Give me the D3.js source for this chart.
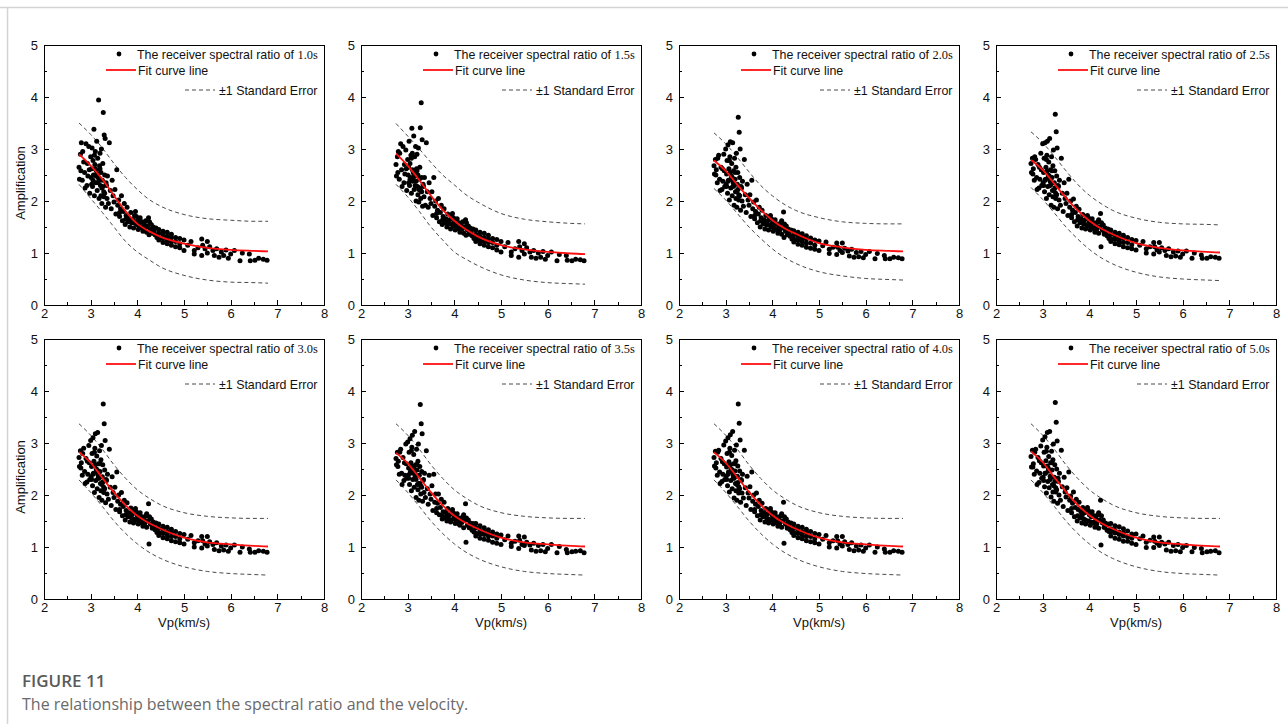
<!DOCTYPE html>
<html>
<head>
<meta charset="utf-8">
<script src="https://cdn.jsdelivr.net/npm/d3@7"></script>
<style>
  body { margin: 0; background: #fff; }
  svg { display: block; }
</style>
</head>
<body>
<div id="chart"></div>
<script>
// Plot constants
const PAGE = {WIDTH: 1288, HEIGHT: 724};
const PANEL = {WIDTH: 280, HEIGHT: 260};
const COL_LEFT = [44, 361, 679, 996];
const ROW_TOP = [45, 339];

const periods = ["1.0", "1.5", "2.0", "2.5", "3.0", "3.5", "4.0", "5.0"];
const xTicks = [2, 3, 4, 5, 6, 7, 8];
const yTicks = [0, 1, 2, 3, 4, 5];

// station velocities (shared by all periods)
const vp = [
  2.75,2.76,2.78,2.80,2.82,2.85,2.87,2.90,2.92,2.94,
  2.96,2.98,3.00,3.01,3.02,3.03,3.04,3.05,3.06,3.07,
  3.08,3.09,3.10,3.11,3.12,3.13,3.14,3.15,3.16,3.17,
  3.18,3.19,3.20,3.21,3.22,3.23,3.24,3.25,3.26,3.27,
  3.28,3.29,3.30,3.31,3.32,3.33,3.35,3.36,3.38,3.40,
  3.42,3.44,3.46,3.48,
  2.79,2.88,2.97,3.05,3.10,3.14,3.18,3.22,3.26,3.30,
  2.83,2.93,3.02,3.08,3.12,3.16,3.20,3.24,3.28,3.34,
  3.50,3.52,3.54,3.56,3.58,3.60,3.62,3.64,3.66,3.68,
  3.70,3.72,3.74,3.76,3.78,3.80,3.82,3.84,3.86,3.88,
  3.90,3.92,3.94,3.96,3.98,4.00,4.02,4.04,4.06,4.08,
  4.10,4.12,4.14,4.16,4.18,4.20,4.22,4.24,4.25,4.26,
  4.28,4.30,4.32,4.34,4.36,4.38,4.40,4.42,
  3.62,3.75,3.85,3.92,3.98,4.03,4.10,4.15,4.20,4.32,
  4.46,4.46,4.46,4.46,4.55,4.55,4.55,4.55,4.64,4.64,
  4.64,4.64,4.73,4.73,4.73,4.73,4.82,4.82,4.82,4.91,
  4.91,4.91,5.00,5.00,
  5.08,5.15,5.22,5.22,5.30,5.38,5.38,5.40,5.45,5.50,
  5.50,5.55,5.62,5.65,5.70,5.75,5.80,5.85,5.90,5.95,
  6.00,6.08,6.20,6.25,6.40,6.42,6.52,6.60,6.70,6.78
];

// receiver spectral ratio (amplification) per period
const amp10 = [
  2.65,2.42,2.90,3.12,2.40,2.75,2.55,3.10,2.30,2.48,
  3.05,2.15,2.85,2.45,2.62,3.02,2.28,2.78,2.50,3.38,
  2.10,2.70,2.95,2.35,2.58,3.15,2.20,2.82,2.45,3.94,
  2.05,2.68,2.92,2.30,2.55,3.00,1.95,2.40,2.72,3.70,
  2.18,3.27,2.50,3.20,1.88,2.35,2.05,2.48,1.95,3.12,
  2.20,1.85,2.40,2.10,
  2.58,2.25,2.60,2.40,2.62,2.52,2.40,2.10,2.28,2.15,
  2.95,2.72,2.32,2.88,2.48,2.35,2.62,2.25,2.08,2.30,
  1.98,2.22,1.75,2.60,1.92,2.02,1.70,1.85,2.10,1.62,
  1.80,1.95,1.55,1.72,1.88,1.60,1.68,1.50,1.78,1.58,
  1.65,1.48,1.72,1.80,1.55,1.62,1.45,1.58,1.68,1.50,
  1.60,1.42,1.55,1.48,1.62,1.40,1.52,1.68,1.35,1.60,
  1.45,1.55,1.38,1.50,1.42,1.35,1.48,1.30,
  1.78,1.65,1.62,1.58,1.70,1.52,1.48,1.55,1.50,1.42,
  1.45,1.38,1.30,1.25,1.42,1.35,1.28,1.20,1.40,1.32,
  1.25,1.18,1.36,1.30,1.22,1.15,1.30,1.22,1.12,1.28,
  1.18,1.10,1.25,1.05,
  1.15,1.22,1.05,0.98,1.10,1.27,0.95,1.15,1.08,1.22,
  1.00,1.12,1.05,0.95,1.08,0.92,1.02,0.95,1.06,0.90,
  0.98,1.05,0.85,1.00,0.98,0.85,0.86,0.90,0.88,0.86
];
const amp15 = [
  2.70,2.48,2.85,2.95,2.42,3.10,2.60,3.05,2.35,2.52,
  2.98,2.20,2.80,2.50,2.65,3.15,2.30,2.72,2.45,2.88,
  2.15,3.40,2.92,2.38,2.55,3.25,2.22,2.85,2.48,3.05,
  2.00,2.62,2.90,2.28,2.50,3.02,1.98,2.42,2.65,3.41,
  2.20,3.89,2.45,3.18,1.90,2.32,2.08,2.45,1.92,3.12,
  2.18,1.88,2.35,2.05,
  2.55,2.28,2.62,2.42,2.60,2.50,2.38,2.12,2.25,2.18,
  2.92,2.70,2.35,2.82,2.45,2.30,2.58,2.22,2.05,2.28,
  1.95,2.18,1.72,2.45,1.90,2.00,1.68,1.82,2.05,1.60,
  1.78,1.92,1.55,1.70,1.85,1.58,1.66,1.50,1.75,1.56,
  1.64,1.46,1.70,1.76,1.52,1.60,1.44,1.56,1.66,1.48,
  1.58,1.40,1.54,1.46,1.60,1.38,1.50,1.64,1.34,1.58,
  1.44,1.52,1.36,1.48,1.40,1.33,1.46,1.28,
  1.76,1.64,1.60,1.56,1.68,1.50,1.46,1.53,1.48,1.40,
  1.44,1.36,1.28,1.22,1.40,1.32,1.25,1.18,1.38,1.30,
  1.22,1.15,1.34,1.27,1.20,1.12,1.28,1.20,1.10,1.26,
  1.15,1.06,1.22,1.02,
  1.12,1.20,1.02,0.95,1.08,1.22,0.92,1.12,1.05,1.18,
  0.98,1.10,1.02,0.92,1.05,0.90,1.00,0.92,1.03,0.88,
  0.95,1.02,0.85,0.97,0.95,0.86,0.85,0.88,0.87,0.85
];
const amp20 = [
  2.68,2.52,2.80,2.60,2.35,2.88,2.42,2.65,2.22,2.38,
  2.90,2.28,3.00,2.32,2.52,2.78,2.15,3.08,2.40,2.62,
  2.02,2.85,3.14,2.25,2.48,2.72,2.10,3.12,2.35,2.58,
  1.92,2.82,2.42,2.18,2.65,2.92,1.88,2.32,2.55,3.61,
  2.12,3.32,2.45,3.00,1.82,2.28,2.00,2.38,1.90,2.80,
  2.12,1.78,2.32,2.02,
  2.50,2.20,2.58,2.38,2.55,2.45,2.30,2.05,2.22,2.10,
  2.82,2.62,2.28,2.78,2.42,2.28,2.55,2.18,2.02,2.25,
  1.92,2.12,1.70,2.40,1.85,1.98,1.66,1.80,2.02,1.58,
  1.75,1.88,1.50,1.68,1.82,1.56,1.64,1.46,1.72,1.54,
  1.62,1.44,1.68,1.72,1.50,1.58,1.42,1.55,1.64,1.46,
  1.56,1.38,1.52,1.44,1.58,1.36,1.48,1.79,1.30,1.56,
  1.42,1.52,1.35,1.46,1.38,1.32,1.44,1.27,
  1.72,1.62,1.58,1.54,1.66,1.48,1.45,1.52,1.62,1.40,
  1.43,1.35,1.27,1.21,1.40,1.32,1.25,1.17,1.37,1.29,
  1.22,1.15,1.33,1.27,1.19,1.11,1.29,1.19,1.09,1.25,
  1.15,1.07,1.23,1.05,
  1.14,1.21,1.07,0.99,1.11,1.19,0.97,1.11,1.05,1.19,
  1.01,1.09,1.04,0.94,1.07,0.92,1.01,0.93,1.03,0.91,
  0.97,1.03,0.89,0.99,0.95,0.89,0.89,0.92,0.91,0.89
];
const amp25 = [
  2.72,2.55,2.82,2.62,2.40,2.80,2.45,2.70,2.25,2.42,
  2.92,2.30,3.10,2.35,2.55,2.82,2.18,3.12,2.42,2.65,
  2.05,2.88,3.15,2.28,2.50,2.75,2.12,3.20,2.38,2.60,
  1.92,2.85,2.45,2.20,2.68,2.98,1.88,2.35,2.58,3.67,
  2.15,3.33,2.48,3.02,1.85,2.30,2.02,2.40,1.92,2.82,
  2.15,1.80,2.35,2.05,
  2.52,2.22,2.60,2.40,2.58,2.48,2.32,2.08,2.25,2.12,
  2.85,2.65,2.30,2.80,2.45,2.30,2.58,2.20,2.05,2.28,
  1.95,2.15,1.72,2.42,1.88,2.00,1.68,1.82,2.04,1.60,
  1.78,1.90,1.52,1.70,1.84,1.58,1.66,1.48,1.74,1.56,
  1.64,1.46,1.70,1.72,1.52,1.60,1.44,1.56,1.66,1.48,
  1.58,1.40,1.54,1.46,1.60,1.38,1.50,1.76,1.12,1.58,
  1.44,1.54,1.36,1.48,1.40,1.33,1.46,1.28,
  1.74,1.64,1.60,1.55,1.68,1.50,1.46,1.53,1.64,1.40,
  1.44,1.36,1.28,1.22,1.40,1.33,1.26,1.18,1.38,1.30,
  1.23,1.16,1.34,1.28,1.20,1.12,1.30,1.20,1.10,1.26,
  1.16,1.08,1.24,1.06,
  1.15,1.22,1.08,1.00,1.12,1.20,0.98,1.12,1.06,1.20,
  1.02,1.10,1.05,0.95,1.08,0.93,1.02,0.94,1.04,0.92,
  0.98,1.04,0.90,1.00,0.96,0.90,0.90,0.93,0.92,0.90
];
const amp30 = [
  2.72,2.55,2.85,2.62,2.38,2.90,2.45,2.70,2.25,2.40,
  2.95,2.30,3.05,2.35,2.55,2.80,2.18,3.10,2.42,2.65,
  2.05,2.90,3.18,2.28,2.50,2.75,2.12,3.20,2.38,2.60,
  1.95,2.85,2.45,2.22,2.68,2.95,1.90,2.35,2.58,3.75,
  2.15,3.37,2.48,3.05,1.85,2.30,2.02,2.40,1.92,2.88,
  2.15,1.80,2.35,2.05,
  2.52,2.22,2.62,2.40,2.58,2.48,2.32,2.08,2.25,2.12,
  2.80,2.65,2.30,2.82,2.45,2.32,2.60,2.20,2.05,2.28,
  1.95,2.15,1.72,2.44,1.88,2.00,1.68,1.82,2.05,1.60,
  1.78,1.90,1.52,1.70,1.85,1.58,1.66,1.48,1.75,1.56,
  1.64,1.46,1.70,1.74,1.52,1.60,1.44,1.56,1.66,1.48,
  1.58,1.40,1.54,1.46,1.60,1.38,1.50,1.83,1.06,1.58,
  1.44,1.54,1.36,1.48,1.40,1.33,1.46,1.28,
  1.72,1.62,1.60,1.54,1.68,1.50,1.46,1.52,1.64,1.40,
  1.44,1.36,1.28,1.22,1.40,1.33,1.26,1.18,1.38,1.30,
  1.23,1.16,1.34,1.28,1.20,1.12,1.30,1.20,1.10,1.26,
  1.16,1.08,1.24,1.06,
  1.15,1.22,1.08,1.00,1.12,1.20,0.98,1.12,1.06,1.20,
  1.02,1.10,1.05,0.95,1.08,0.93,1.02,0.94,1.04,0.92,
  0.98,1.04,0.90,1.00,0.96,0.90,0.90,0.93,0.92,0.90
];
const amp35 = [
  2.70,2.58,2.82,2.65,2.40,2.88,2.42,2.72,2.28,2.38,
  2.98,2.32,3.02,2.38,2.52,2.82,2.20,3.08,2.45,2.62,
  2.08,2.92,3.15,2.30,2.48,2.78,2.15,3.22,2.40,2.58,
  1.95,2.88,2.48,2.20,2.65,2.98,1.90,2.38,2.55,3.74,
  2.18,3.37,2.45,3.18,1.88,2.28,2.05,2.42,1.95,2.85,
  2.12,1.82,2.38,2.02,
  2.55,2.20,2.60,2.42,2.56,2.50,2.30,2.10,2.22,2.15,
  2.82,2.62,2.32,2.85,2.42,2.35,2.58,2.22,2.02,2.30,
  1.92,2.18,1.70,2.40,1.86,2.02,1.66,1.84,2.02,1.62,
  1.76,1.92,1.54,1.68,1.86,1.56,1.68,1.50,1.74,1.54,
  1.62,1.48,1.68,1.72,1.54,1.58,1.45,1.55,1.64,1.50,
  1.56,1.42,1.52,1.47,1.58,1.37,1.52,1.83,1.09,1.56,
  1.42,1.52,1.37,1.46,1.41,1.32,1.45,1.29,
  1.74,1.60,1.62,1.52,1.66,1.52,1.44,1.54,1.62,1.38,
  1.45,1.37,1.27,1.21,1.41,1.32,1.25,1.17,1.37,1.29,
  1.24,1.15,1.33,1.27,1.21,1.13,1.29,1.21,1.09,1.25,
  1.17,1.07,1.23,1.05,
  1.14,1.21,1.07,1.01,1.11,1.21,0.97,1.13,1.05,1.19,
  1.03,1.09,1.04,0.94,1.07,0.92,1.03,0.93,1.05,0.91,
  0.97,1.05,0.89,1.01,0.95,0.89,0.91,0.92,0.93,0.89
];
const amp40 = [
  2.72,2.56,2.84,2.62,2.38,2.86,2.44,2.70,2.26,2.40,
  2.96,2.30,3.04,2.36,2.54,2.80,2.18,3.10,2.44,2.64,
  2.06,2.90,3.16,2.28,2.50,2.76,2.12,3.22,2.38,2.60,
  1.94,2.86,2.46,2.22,2.66,2.96,1.90,2.36,2.56,3.75,
  2.16,3.38,2.46,3.06,1.86,2.30,2.04,2.40,1.94,2.86,
  2.14,1.80,2.36,2.04,
  2.52,2.22,2.60,2.40,2.58,2.48,2.32,2.08,2.24,2.12,
  2.82,2.64,2.30,2.82,2.44,2.32,2.60,2.20,2.04,2.28,
  1.94,2.16,1.72,2.44,1.88,2.00,1.68,1.82,2.04,1.60,
  1.78,1.90,1.52,1.70,1.84,1.58,1.66,1.48,1.74,1.56,
  1.64,1.46,1.70,1.74,1.52,1.60,1.44,1.56,1.66,1.48,
  1.58,1.40,1.54,1.46,1.60,1.38,1.50,1.86,1.07,1.58,
  1.44,1.54,1.36,1.48,1.40,1.33,1.46,1.28,
  1.72,1.62,1.60,1.54,1.68,1.50,1.46,1.52,1.64,1.40,
  1.44,1.36,1.28,1.22,1.40,1.33,1.26,1.18,1.38,1.30,
  1.23,1.16,1.34,1.28,1.20,1.12,1.30,1.20,1.10,1.26,
  1.16,1.08,1.24,1.06,
  1.15,1.22,1.08,1.00,1.12,1.20,0.98,1.12,1.06,1.20,
  1.02,1.10,1.05,0.95,1.08,0.93,1.02,0.94,1.04,0.92,
  0.98,1.04,0.90,1.00,0.96,0.90,0.90,0.93,0.92,0.90
];
const amp50 = [
  2.74,2.54,2.86,2.60,2.40,2.88,2.46,2.72,2.24,2.42,
  2.94,2.32,3.06,2.34,2.56,2.82,2.16,3.12,2.42,2.66,
  2.04,2.92,3.20,2.26,2.52,2.74,2.14,3.22,2.36,2.62,
  1.96,2.84,2.48,2.20,2.68,2.98,1.88,2.34,2.58,3.78,
  2.14,3.40,2.50,3.04,1.84,2.32,2.00,2.42,1.90,2.86,
  2.16,1.78,2.34,2.06,
  2.54,2.20,2.62,2.42,2.56,2.46,2.34,2.06,2.26,2.10,
  2.82,2.66,2.28,2.84,2.46,2.30,2.62,2.18,2.06,2.26,
  1.96,2.14,1.70,2.44,1.90,1.98,1.66,1.84,2.06,1.58,
  1.76,1.92,1.50,1.72,1.86,1.56,1.68,1.46,1.76,1.54,
  1.66,1.44,1.72,1.76,1.50,1.62,1.42,1.58,1.68,1.46,
  1.60,1.38,1.56,1.44,1.62,1.36,1.52,1.90,1.04,1.60,
  1.46,1.52,1.38,1.46,1.42,1.32,1.44,1.30,
  1.74,1.60,1.62,1.52,1.70,1.48,1.48,1.50,1.66,1.38,
  1.45,1.35,1.29,1.21,1.41,1.32,1.27,1.17,1.39,1.29,
  1.24,1.15,1.35,1.27,1.21,1.11,1.31,1.19,1.11,1.25,
  1.17,1.07,1.25,1.05,
  1.16,1.21,1.09,0.99,1.13,1.19,0.99,1.11,1.07,1.19,
  1.03,1.09,1.06,0.94,1.09,0.92,1.03,0.93,1.05,0.91,
  0.99,1.03,0.91,0.99,0.97,0.89,0.91,0.92,0.93,0.89
];

// fit curve and ±1 standard error, read at these velocities
const fitX = [2.75, 3.0, 3.25, 3.5, 3.75, 4.0, 4.25, 4.5, 5.0, 5.5, 6.0, 6.5, 6.8];
const fit10 = [2.90,2.68,2.42,2.10,1.80,1.56,1.42,1.31,1.18,1.10,1.06,1.04,1.03];
const fit15 = [2.91,2.68,2.40,2.10,1.83,1.62,1.45,1.32,1.15,1.07,1.02,0.99,0.98];
const fit20 = [2.78,2.58,2.31,2.06,1.83,1.63,1.48,1.37,1.19,1.11,1.06,1.04,1.03];
const fit25 = [2.79,2.60,2.33,2.06,1.82,1.62,1.47,1.36,1.19,1.10,1.05,1.02,1.01];
const fit30 = [2.83,2.62,2.33,2.05,1.80,1.60,1.46,1.35,1.18,1.09,1.05,1.02,1.01];
const fit35 = [2.81,2.61,2.33,2.05,1.80,1.60,1.46,1.35,1.18,1.09,1.05,1.02,1.01];
const fit40 = [2.82,2.62,2.34,2.06,1.81,1.61,1.46,1.35,1.18,1.09,1.05,1.02,1.01];
const fit50 = [2.84,2.63,2.34,2.06,1.81,1.61,1.46,1.35,1.18,1.09,1.05,1.02,1.01];

const upper10 = [3.50,3.28,3.02,2.72,2.45,2.22,2.03,1.90,1.74,1.66,1.63,1.61,1.61];
const upper15 = [3.49,3.25,3.00,2.74,2.50,2.31,2.12,1.98,1.76,1.65,1.60,1.57,1.56];
const upper20 = [3.31,3.10,2.84,2.56,2.30,2.10,1.94,1.82,1.68,1.60,1.57,1.56,1.56];
const upper25 = [3.33,3.12,2.86,2.58,2.32,2.11,1.95,1.82,1.67,1.59,1.56,1.55,1.54];
const upper30 = [3.37,3.15,2.88,2.58,2.32,2.10,1.94,1.81,1.66,1.59,1.56,1.55,1.55];
const upper35 = [3.37,3.15,2.88,2.58,2.32,2.10,1.94,1.81,1.66,1.59,1.56,1.55,1.55];
const upper40 = [3.37,3.15,2.88,2.58,2.32,2.10,1.94,1.81,1.66,1.59,1.56,1.55,1.55];
const upper50 = [3.37,3.15,2.88,2.58,2.32,2.10,1.94,1.81,1.66,1.59,1.56,1.55,1.55];

const lower10 = [2.32,2.05,1.78,1.50,1.22,1.02,0.87,0.73,0.57,0.48,0.44,0.43,0.42];
const lower15 = [2.32,2.08,1.80,1.50,1.25,1.02,0.88,0.76,0.58,0.48,0.43,0.41,0.40];
const lower20 = [2.24,2.02,1.76,1.50,1.28,1.08,0.92,0.80,0.64,0.56,0.51,0.49,0.48];
const lower25 = [2.26,2.03,1.77,1.50,1.27,1.07,0.91,0.79,0.63,0.54,0.50,0.48,0.47];
const lower30 = [2.29,2.05,1.78,1.50,1.26,1.06,0.90,0.78,0.62,0.53,0.49,0.47,0.46];
const lower35 = [2.29,2.05,1.78,1.50,1.26,1.06,0.90,0.78,0.62,0.53,0.49,0.47,0.46];
const lower40 = [2.29,2.05,1.78,1.50,1.26,1.06,0.90,0.78,0.62,0.53,0.49,0.47,0.46];
const lower50 = [2.29,2.05,1.78,1.50,1.26,1.06,0.90,0.78,0.62,0.53,0.49,0.47,0.46];

const amps = [amp10, amp15, amp20, amp25, amp30, amp35, amp40, amp50];
const fits = [fit10, fit15, fit20, fit25, fit30, fit35, fit40, fit50];
const uppers = [upper10, upper15, upper20, upper25, upper30, upper35, upper40, upper50];
const lowers = [lower10, lower15, lower20, lower25, lower30, lower35, lower40, lower50];

const SANS = "'Liberation Sans', Arial, sans-serif";

const svg = d3
  .select("#chart")
  .append("svg")
  .attr("width", PAGE.WIDTH)
  .attr("height", PAGE.HEIGHT);

// page frame (top + left rule)
svg.append("line")
  .attr("x1", 0).attr("x2", PAGE.WIDTH).attr("y1", 7.5).attr("y2", 7.5)
  .attr("stroke", "#d4d4d4").attr("stroke-width", 1.5);
svg.append("line")
  .attr("x1", 7.5).attr("x2", 7.5).attr("y1", 7).attr("y2", PAGE.HEIGHT)
  .attr("stroke", "#d4d4d4").attr("stroke-width", 1.5);

const x = d3.scaleLinear().domain([2, 8]).range([0, PANEL.WIDTH]);
const y = d3.scaleLinear().domain([0, 5]).range([PANEL.HEIGHT, 0]);

const line = d3.line()
  .x((d) => x(d[0]))
  .y((d) => y(d[1]))
  .curve(d3.curveMonotoneX);

periods.forEach((period, i) => {
  const col = i % 4;
  const row = Math.floor(i / 4);
  const g = svg.append("g")
    .attr("transform", "translate(" + COL_LEFT[col] + "," + ROW_TOP[row] + ")");

  const pts = vp.map((v, k) => [v, amps[i][k]]).filter((d) => d[1] != null);

  // dashed error bands
  [uppers[i], lowers[i]].forEach((band) => {
    g.append("path")
      .datum(fitX.map((v, k) => [v, band[k]]))
      .attr("d", line)
      .attr("fill", "none")
      .attr("stroke", "#4a4a4a")
      .attr("stroke-width", 1)
      .attr("stroke-dasharray", "4,3");
  });

  // scatter
  g.append("g")
    .selectAll("circle")
    .data(pts)
    .join("circle")
    .attr("cx", (d) => x(d[0]))
    .attr("cy", (d) => y(d[1]))
    .attr("r", 2.5)
    .attr("fill", "#000");

  // fit curve
  g.append("path")
    .datum(fitX.map((v, k) => [v, fits[i][k]]))
    .attr("d", line)
    .attr("fill", "none")
    .attr("stroke", "#ff1010")
    .attr("stroke-width", 1.8);

  // axes
  const xAxis = g.append("g")
    .attr("transform", "translate(0," + PANEL.HEIGHT + ")")
    .call(d3.axisBottom(x).tickValues(xTicks).tickSizeInner(-5).tickSizeOuter(0).tickPadding(4).tickFormat(d3.format("d")));
  const xMinor = g.append("g")
    .attr("transform", "translate(0," + PANEL.HEIGHT + ")")
    .call(d3.axisBottom(x).tickValues(d3.range(2.5, 8, 1)).tickSizeInner(-3).tickSizeOuter(0).tickFormat(""));
  const yAxis = g.append("g")
    .call(d3.axisLeft(y).tickValues(yTicks).tickSizeInner(-5).tickSizeOuter(0).tickPadding(6).tickFormat(d3.format("d")));
  const yMinor = g.append("g")
    .call(d3.axisLeft(y).tickValues(d3.range(0.5, 5, 1)).tickSizeInner(-3).tickSizeOuter(0).tickFormat(""));

  [xAxis, xMinor, yAxis, yMinor].forEach((a) => {
    a.select(".domain").remove();
    a.selectAll("line").attr("stroke", "#000").attr("shape-rendering", "crispEdges");
    a.selectAll("text").attr("fill", "#111").style("font-family", SANS).style("font-size", "13px");
  });

  g.append("rect")
    .attr("width", PANEL.WIDTH)
    .attr("height", PANEL.HEIGHT)
    .attr("fill", "none")
    .attr("stroke", "#000")
    .attr("stroke-width", 1)
    .attr("shape-rendering", "crispEdges");

  // legend
  const lg = g.append("g").style("font-family", SANS).style("font-size", "12.4px").attr("fill", "#111");
  lg.append("circle").attr("cx", 75).attr("cy", 9).attr("r", 2.4).attr("fill", "#000");
  const t1 = lg.append("text").attr("x", 93).attr("y", 13.5);
  t1.append("tspan").text("The receiver spectral ratio of ");
  t1.append("tspan").style("font-family", "'Liberation Serif', 'Times New Roman', serif").text(period + "s");
  lg.append("line").attr("x1", 62).attr("x2", 92).attr("y1", 25).attr("y2", 25)
    .attr("stroke", "#ff1010").attr("stroke-width", 1.8);
  lg.append("text").attr("x", 94).attr("y", 29.5).text("Fit curve line");
  lg.append("line").attr("x1", 141).attr("x2", 171).attr("y1", 45).attr("y2", 45)
    .attr("stroke", "#4a4a4a").attr("stroke-width", 1).attr("stroke-dasharray", "4,3");
  lg.append("text").attr("x", 175).attr("y", 49.5).text("±1 Standard Error");

  // axis titles
  if (col === 0) {
    g.append("text")
      .attr("transform", "translate(-19," + (PANEL.HEIGHT / 2 + 8) + ") rotate(-90)")
      .attr("text-anchor", "middle")
      .style("font-family", SANS)
      .style("font-size", "13px")
      .attr("fill", "#111")
      .text("Amplification");
  }
  if (row === 1) {
    g.append("text")
      .attr("x", PANEL.WIDTH / 2)
      .attr("y", PANEL.HEIGHT + 28)
      .attr("text-anchor", "middle")
      .style("font-family", SANS)
      .style("font-size", "13px")
      .attr("fill", "#111")
      .text("Vp(km/s)");
  }
});

// caption
svg.append("text")
  .attr("x", 22)
  .attr("y", 687)
  .style("font-family", "'Open Sans', sans-serif")
  .style("font-size", "17px")
  .style("font-weight", 600)
  .attr("fill", "#5a5a5a")
  .text("FIGURE 11");
svg.append("text")
  .attr("x", 22)
  .attr("y", 710)
  .style("font-family", "'Open Sans', sans-serif")
  .style("font-size", "16px")
  .attr("fill", "#6a6a6a")
  .text("The relationship between the spectral ratio and the velocity.");
</script>
</body>
</html>
